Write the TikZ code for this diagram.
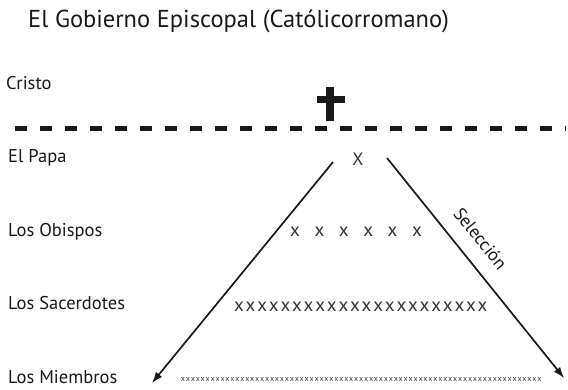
\documentclass[tikz,border=0pt]{standalone}
\usepackage{fontspec}
\setmainfont{PT Sans}
\usetikzlibrary{arrows.meta}
\begin{document}
\begin{tikzpicture}[x=1pt,y=-1pt,
    level/.style ={anchor=base west, inner sep=0pt, text=black!90,
                   font=\fontsize{18.5}{18.5}\selectfont},
    member/.style ={anchor=base, inner sep=0pt, text=black!80},
    selection/.style ={-{Latex[length=11pt,width=8pt]}, line width=1.7pt, black!90}]
   \useasboundingbox (0,0) rectangle (568,389);

   \node[anchor=base west, inner sep=0pt, text=black!90,
         font=\fontsize{24.5}{24.5}\selectfont] (title) at (28,27)
         {El Gobierno Episcopal (Católicorromano)};

   \node[level] (cristo)     at (6,89)    {Cristo};
   \node[level] (papa)       at (8,162.5) {El Papa};
   \node[level] (obispos)    at (8,236)   {Los Obispos};
   \node[level] (sacerdotes) at (8,309.5) {Los Sacerdotes};
   \node[level] (miembros)   at (8,383)   {Los Miembros};

   % la cruz
   \fill[black!90] (326,87) rectangle (334,121);
   \fill[black!90] (317,96) rectangle (345,103);

   \draw[line width=5pt, black!90, dash pattern=on 12pt off 13pt] (15,128) -- (566,128);

   \node[member, font=\fontsize{18}{18}\selectfont] (x) at (358,165) {X};
   \foreach \i in {0,...,5}
      \node[member, font=\fontsize{19}{19}\selectfont] (o\i) at (295+\i*24.4,236) {x};
   \foreach \i in {0,...,21}
      \node[member, font=\fontsize{19}{19}\selectfont] (s\i) at (239+\i*11.6,311) {x};
   \foreach \i in {0,...,72}
      \node[member, font=\fontsize{8}{8}\selectfont] (m\i) at (183+\i*4.95,381) {x};

   \coordinate (lstart) at (333,162);
   \coordinate (lend)   at (152,383);
   \coordinate (rstart) at (387,158);
   \coordinate (rend)   at (564,378);

   \draw[selection] (lstart) to (lend);
   \draw[selection] (rstart) to node[pos=0.43, above=15pt, sloped, inner sep=0pt,
         text=black!90, font=\fontsize{18}{18}\selectfont] (sel) {Selección} (rend);
\end{tikzpicture}
\end{document}
